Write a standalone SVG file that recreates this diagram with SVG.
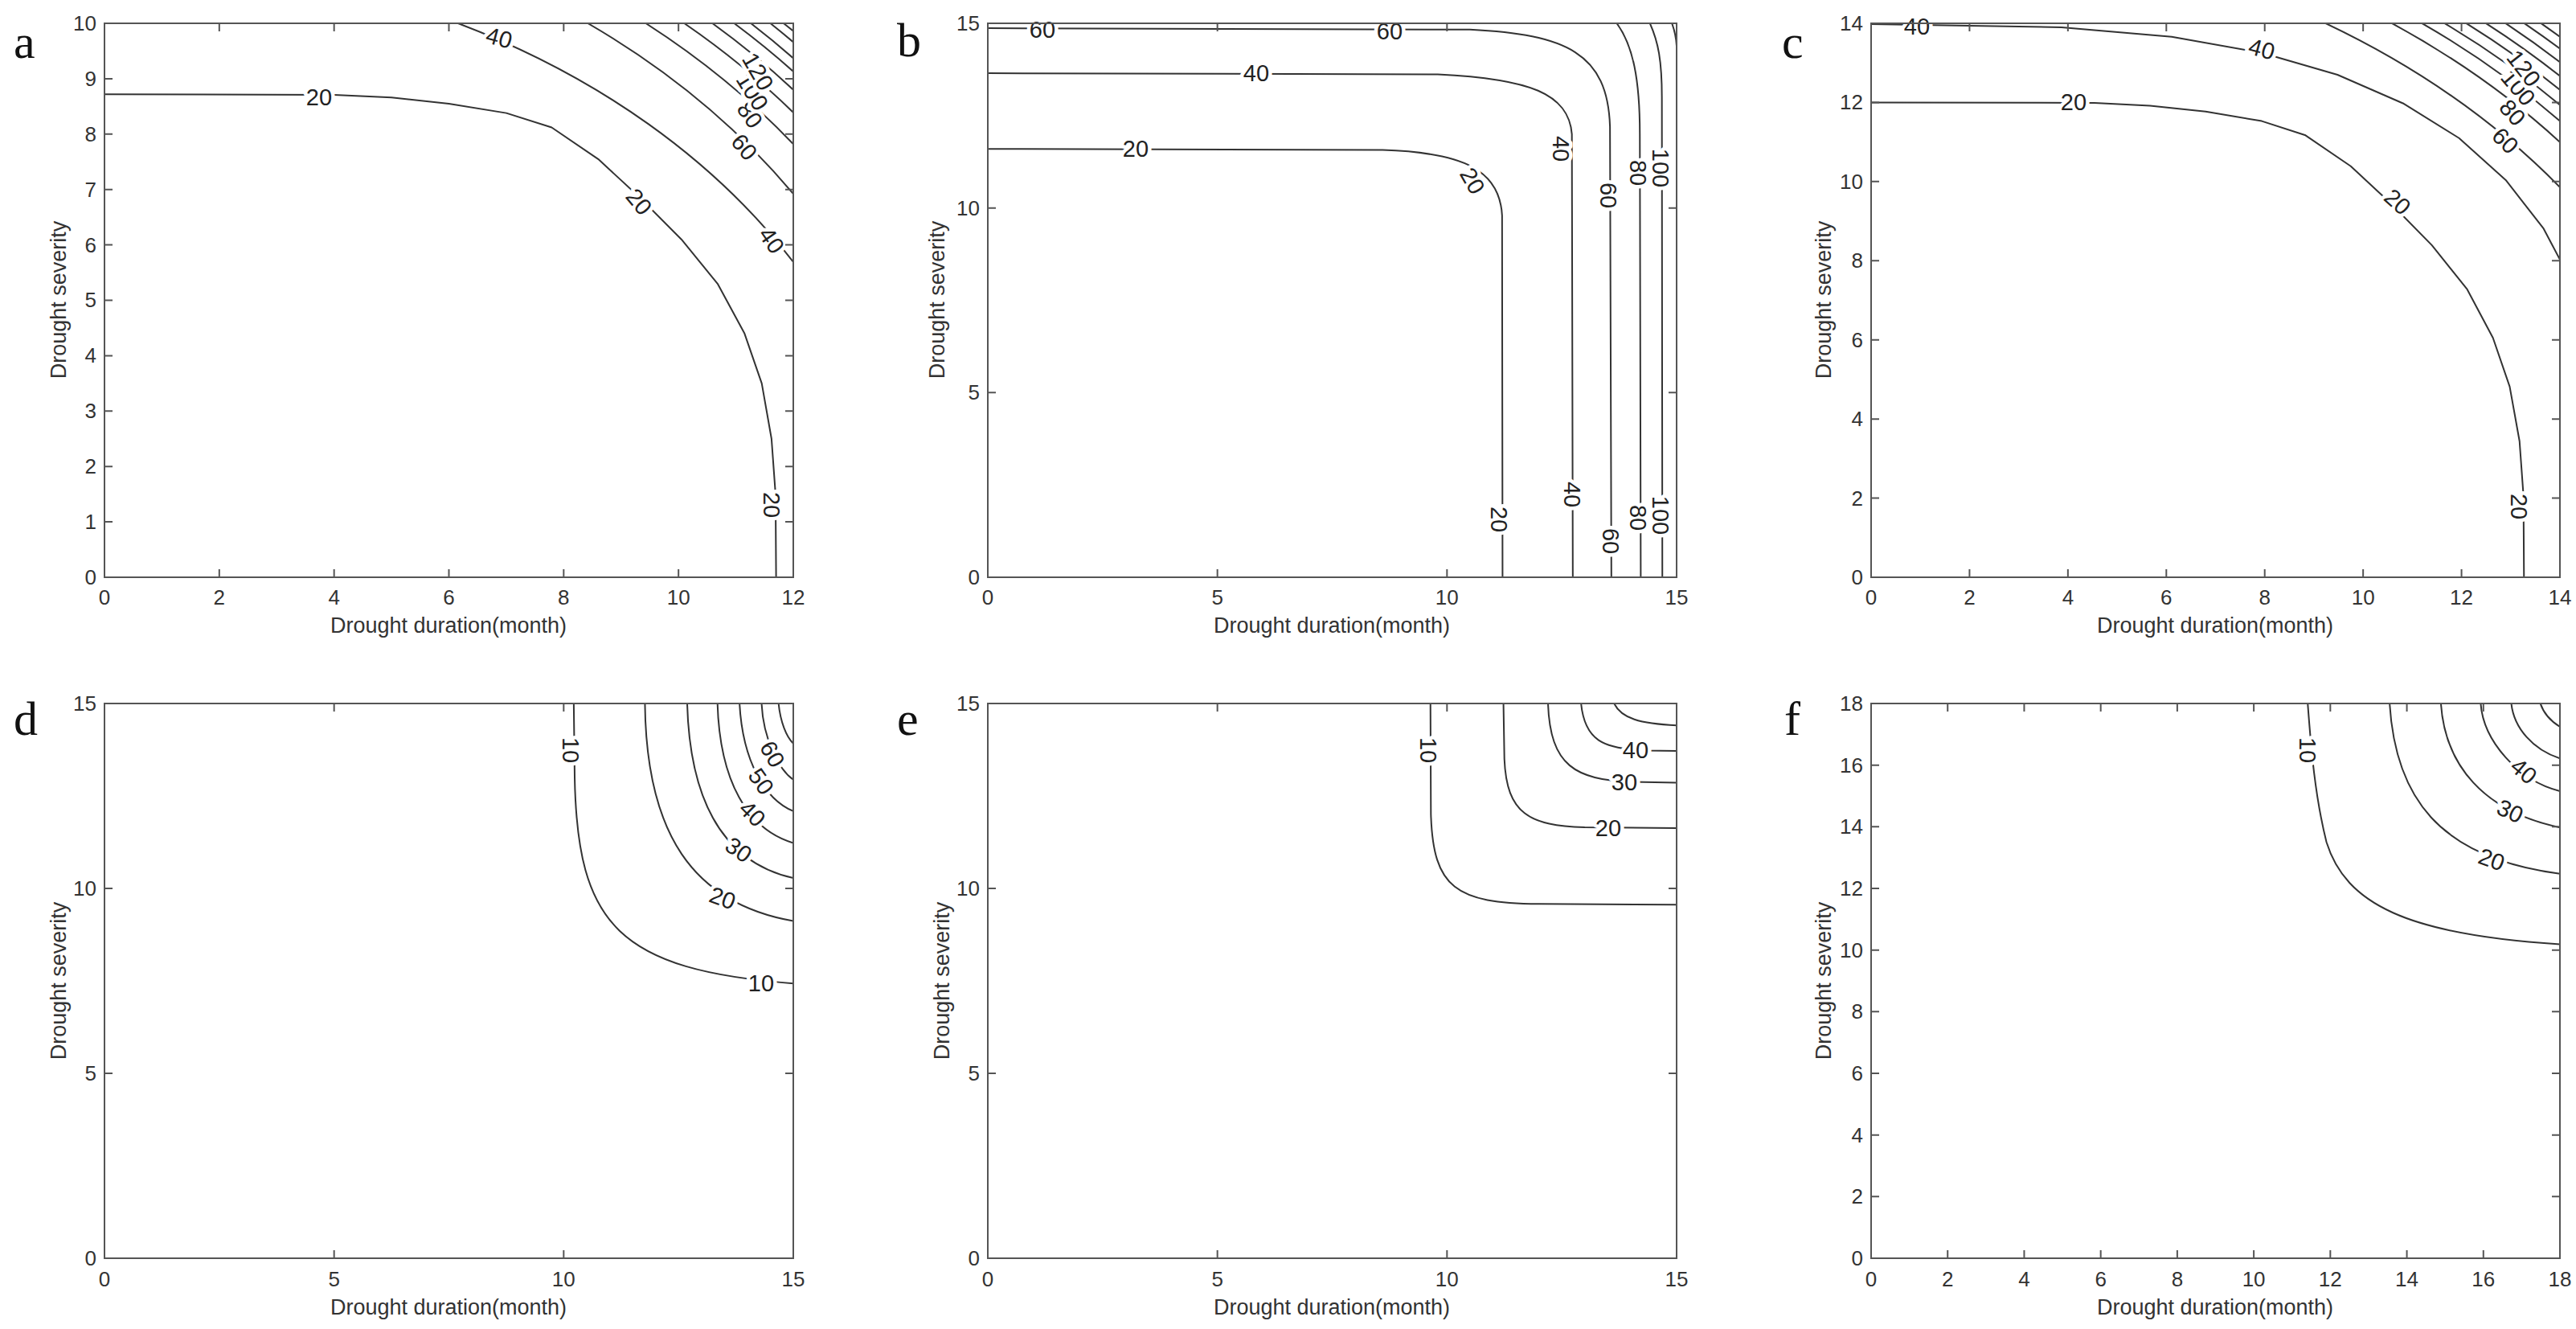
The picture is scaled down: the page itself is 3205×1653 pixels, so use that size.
<svg xmlns="http://www.w3.org/2000/svg" width="3205" height="1653" viewBox="0 0 3205 1653">
<style>
text{font-family:"Liberation Sans",Arial,sans-serif;fill:#333}
.fr{fill:none;stroke:#555;stroke-width:2}
.tk{fill:none;stroke:#555;stroke-width:2}
.c{fill:none;stroke:#333;stroke-width:2;vector-effect:non-scaling-stroke;stroke-linejoin:round}
.tl{font-size:26px}
.ty{font-size:26px;text-anchor:end}
.tx{font-size:26px;text-anchor:middle}
.al{font-size:27px;text-anchor:middle}
.lb{font-size:29px;text-anchor:middle;dominant-baseline:central;fill:#222;stroke:#fff;stroke-width:9px;paint-order:stroke;stroke-linejoin:round}
.pl{font-family:"Liberation Serif","Times New Roman",serif;font-size:60px;fill:#111}
</style>
<defs>
<clipPath id="ca" clipPathUnits="userSpaceOnUse"><rect x="0" y="0" width="12" height="10"/></clipPath>
<clipPath id="cb" clipPathUnits="userSpaceOnUse"><rect x="0" y="0" width="15" height="15"/></clipPath>
<clipPath id="cc" clipPathUnits="userSpaceOnUse"><rect x="0" y="0" width="14" height="14"/></clipPath>
<clipPath id="cf" clipPathUnits="userSpaceOnUse"><rect x="0" y="0" width="18" height="18"/></clipPath>
</defs>
<rect width="3205" height="1653" fill="#fff"/>

<text class="pl" x="17" y="72">a</text>
<text class="pl" x="1116" y="70">b</text>
<text class="pl" x="2217" y="72">c</text>
<text class="pl" x="17" y="914">d</text>
<text class="pl" x="1116" y="914">e</text>
<text class="pl" x="2220" y="914">f</text>

<!-- Panel a -->
<g id="panel-a" transform="translate(130,29)">
<g id="contours-a" transform="translate(0,689) scale(71.42,-68.9)" clip-path="url(#ca)">
<path class="c" d="M0,8.72 L4,8.71 L5,8.66 L6,8.55 L7,8.38 L7.79,8.12 L8.6,7.55 L9.33,6.85 L10.05,6.1 L10.68,5.3 L11.15,4.4 L11.45,3.5 L11.62,2.5 L11.69,1.5 L11.7,0"/>
<path class="c" d="M6.16,10 A13.96 11.14 0 0 0 12,5.69"/>
<path class="c" d="M8.42,10 A14.53 12.27 0 0 0 12,6.92"/>
<path class="c" d="M9.43,10 A15.19 12.76 0 0 0 12,7.82"/>
<path class="c" d="M10.1,10 A15.61 13.11 0 0 0 12,8.39"/>
<path class="c" d="M10.59,10 A15.93 13.38 0 0 0 12,8.8"/>
<path class="c" d="M10.97,10 A16.19 13.6 0 0 0 12,9.13"/>
<path class="c" d="M11.26,10 A16.39 13.76 0 0 0 12,9.37"/>
<path class="c" d="M11.6,10 A16.62 13.96 0 0 0 12,9.66"/>
<path class="c" d="M11.83,10 A16.78 14.1 0 0 0 12,9.86"/>
</g>
<text class="lb" x="267" y="92">20</text>
<text class="lb" transform="translate(665,222) rotate(50)">20</text>
<text class="lb" transform="translate(830,599) rotate(90)">20</text>
<text class="lb" transform="translate(491,18) rotate(15)">40</text>
<text class="lb" transform="translate(830,270) rotate(55)">40</text>
<text class="lb" transform="translate(796,154) rotate(50)">60</text>
<text class="lb" transform="translate(803,114) rotate(55)">80</text>
<text class="lb" transform="translate(806,85) rotate(58)">100</text>
<text class="lb" transform="translate(813,60) rotate(60)">120</text>
<rect class="fr" x="0" y="0" width="857" height="689"/>
<path class="tk" d="M142.83,689v-10M142.83,0v10M285.67,689v-10M285.67,0v10M428.5,689v-10M428.5,0v10M571.33,689v-10M571.33,0v10M714.17,689v-10M714.17,0v10M0,620.1h10M857,620.1h-10M0,551.2h10M857,551.2h-10M0,482.3h10M857,482.3h-10M0,413.4h10M857,413.4h-10M0,344.5h10M857,344.5h-10M0,275.6h10M857,275.6h-10M0,206.7h10M857,206.7h-10M0,137.8h10M857,137.8h-10M0,68.9h10M857,68.9h-10"/>
<g class="tl">
<text class="tx" x="0" y="723">0</text><text class="tx" x="142.83" y="723">2</text><text class="tx" x="285.67" y="723">4</text><text class="tx" x="428.5" y="723">6</text><text class="tx" x="571.33" y="723">8</text><text class="tx" x="714.17" y="723">10</text><text class="tx" x="857" y="723">12</text>
<text class="ty" x="-10" y="698">0</text><text class="ty" x="-10" y="629">1</text><text class="ty" x="-10" y="560">2</text><text class="ty" x="-10" y="491">3</text><text class="ty" x="-10" y="422">4</text><text class="ty" x="-10" y="353">5</text><text class="ty" x="-10" y="285">6</text><text class="ty" x="-10" y="216">7</text><text class="ty" x="-10" y="147">8</text><text class="ty" x="-10" y="78">9</text><text class="ty" x="-10" y="9">10</text>
</g>
<text class="al" x="428" y="758">Drought duration(month)</text>
<text class="al" transform="translate(-48,344) rotate(-90)">Drought severity</text>
</g>

<!-- Panel b -->
<g id="panel-b" transform="translate(1229,29)">
<g id="contours-b" transform="translate(0,689) scale(57.13,-45.93)" clip-path="url(#cb)">
<path class="c" d="M0,11.6 L8.6,11.57 C10.4,11.5 11.15,11 11.2,9.8 L11.21,0"/>
<path class="c" d="M0,13.65 L9.8,13.62 C11.8,13.5 12.65,13.1 12.72,12 L12.74,0"/>
<path class="c" d="M0,14.87 L10.5,14.83 C12.6,14.7 13.5,14.2 13.55,12.2 L13.58,0"/>
<path class="c" d="M13.7,15 C14.05,14.4 14.2,13.5 14.2,12 L14.22,0"/>
<path class="c" d="M14.42,15 C14.6,14.5 14.68,14 14.68,13 L14.69,0"/>
<path class="c" d="M14.9,15 C14.96,14.8 14.99,14.6 15,14.4"/>
</g>
<text class="lb" x="184" y="156">20</text>
<text class="lb" transform="translate(603,196) rotate(60)">20</text>
<text class="lb" transform="translate(636,617) rotate(90)">20</text>
<text class="lb" x="334" y="62">40</text>
<text class="lb" transform="translate(713,156) rotate(90)">40</text>
<text class="lb" transform="translate(727,586) rotate(90)">40</text>
<text class="lb" x="68" y="8">60</text>
<text class="lb" x="500" y="10">60</text>
<text class="lb" transform="translate(772,214) rotate(90)">60</text>
<text class="lb" transform="translate(775,644) rotate(90)">60</text>
<text class="lb" transform="translate(809,186) rotate(90)">80</text>
<text class="lb" transform="translate(809,615) rotate(90)">80</text>
<text class="lb" transform="translate(837,180) rotate(90)">100</text>
<text class="lb" transform="translate(837,612) rotate(90)">100</text>
<rect class="fr" x="0" y="0" width="857" height="689"/>
<path class="tk" d="M285.67,689v-10M285.67,0v10M571.33,689v-10M571.33,0v10M0,459.33h10M857,459.33h-10M0,229.67h10M857,229.67h-10"/>
<g class="tl">
<text class="tx" x="0" y="723">0</text><text class="tx" x="285.67" y="723">5</text><text class="tx" x="571.33" y="723">10</text><text class="tx" x="857" y="723">15</text>
<text class="ty" x="-10" y="698">0</text><text class="ty" x="-10" y="468">5</text><text class="ty" x="-10" y="239">10</text><text class="ty" x="-10" y="9">15</text>
</g>
<text class="al" x="428" y="758">Drought duration(month)</text>
<text class="al" transform="translate(-54,344) rotate(-90)">Drought severity</text>
</g>

<!-- Panel c -->
<g id="panel-c" transform="translate(2328,29)">
<g id="contours-c" transform="translate(0,689) scale(61.21,-49.21)" clip-path="url(#cc)">
<path class="c" d="M0,12 L4.54,11.99 L5.67,11.92 L6.8,11.77 L7.94,11.53 L8.83,11.17 L9.75,10.39 L10.58,9.43 L11.4,8.39 L12.11,7.29 L12.64,6.05 L12.98,4.82 L13.18,3.44 L13.26,2.06 L13.27,0"/>
<path class="c" d="M0,13.98 L3.87,13.9 L6.11,13.66 L7.93,13.26 L9.48,12.7 L10.81,11.98 L11.95,11.1 L12.9,10.04 L13.67,8.81 L14.28,7.37"/>
<path class="c" d="M9.24,14 A17.46 16.5 0 0 0 14,9.86"/>
<path class="c" d="M10.59,14 A18.21 17.21 0 0 0 14,11"/>
<path class="c" d="M11.2,14 A18.57 17.55 0 0 0 14,11.53"/>
<path class="c" d="M11.66,14 A18.85 17.82 0 0 0 14,11.94"/>
<path class="c" d="M12.1,14 A19.13 18.08 0 0 0 14,12.32"/>
<path class="c" d="M12.5,14 A19.38 18.32 0 0 0 14,12.67"/>
<path class="c" d="M12.9,14 A19.64 18.56 0 0 0 14,13.02"/>
<path class="c" d="M13.28,14 A19.9 18.8 0 0 0 14,13.36"/>
<path class="c" d="M13.62,14 A20.12 19.02 0 0 0 14,13.66"/>
</g>
<text class="lb" x="57" y="4">40</text>
<text class="lb" transform="translate(486,32) rotate(15)">40</text>
<text class="lb" x="252" y="98">20</text>
<text class="lb" transform="translate(655,222) rotate(42)">20</text>
<text class="lb" transform="translate(806,601) rotate(90)">20</text>
<text class="lb" transform="translate(789,146) rotate(45)">60</text>
<text class="lb" transform="translate(798,111) rotate(48)">80</text>
<text class="lb" transform="translate(805,80) rotate(50)">100</text>
<text class="lb" transform="translate(812,56) rotate(52)">120</text>
<rect class="fr" x="0" y="0" width="857" height="689"/>
<path class="tk" d="M122.43,689v-10M122.43,0v10M244.86,689v-10M244.86,0v10M367.29,689v-10M367.29,0v10M489.71,689v-10M489.71,0v10M612.14,689v-10M612.14,0v10M734.57,689v-10M734.57,0v10M0,590.57h10M857,590.57h-10M0,492.14h10M857,492.14h-10M0,393.71h10M857,393.71h-10M0,295.29h10M857,295.29h-10M0,196.86h10M857,196.86h-10M0,98.43h10M857,98.43h-10"/>
<g class="tl">
<text class="tx" x="0" y="723">0</text><text class="tx" x="122.43" y="723">2</text><text class="tx" x="244.86" y="723">4</text><text class="tx" x="367.29" y="723">6</text><text class="tx" x="489.71" y="723">8</text><text class="tx" x="612.14" y="723">10</text><text class="tx" x="734.57" y="723">12</text><text class="tx" x="857" y="723">14</text>
<text class="ty" x="-10" y="698">0</text><text class="ty" x="-10" y="600">2</text><text class="ty" x="-10" y="501">4</text><text class="ty" x="-10" y="403">6</text><text class="ty" x="-10" y="304">8</text><text class="ty" x="-10" y="206">10</text><text class="ty" x="-10" y="107">12</text><text class="ty" x="-10" y="9">14</text>
</g>
<text class="al" x="428" y="758">Drought duration(month)</text>
<text class="al" transform="translate(-50,344) rotate(-90)">Drought severity</text>
</g>

<!-- Panel d -->
<g id="panel-d" transform="translate(130,875)">
<g id="contours-d" transform="translate(0,690) scale(57.13,-46)" clip-path="url(#cb)">
<path class="c" d="M10.22,15 L10.24,13 C10.3,9 11.2,7.8 15,7.43"/>
<path class="c" d="M11.77,15 C11.8,11.5 12.8,9.6 15,9.12"/>
<path class="c" d="M12.69,15 C12.75,12.3 13.5,10.7 15,10.28"/>
<path class="c" d="M13.35,15 C13.4,12.9 14,11.6 15,11.23"/>
<path class="c" d="M13.83,15 C13.9,13.4 14.4,12.4 15,12.09"/>
<path class="c" d="M14.31,15 C14.35,14 14.7,13.2 15,12.94"/>
<path class="c" d="M14.68,15 C14.72,14.5 14.85,14.1 15,13.92"/>
</g>
<text class="lb" transform="translate(580,58) rotate(90)">10</text>
<text class="lb" x="817" y="348">10</text>
<text class="lb" transform="translate(769,242) rotate(20)">20</text>
<text class="lb" transform="translate(789,182) rotate(35)">30</text>
<text class="lb" transform="translate(806,137) rotate(45)">40</text>
<text class="lb" transform="translate(817,97) rotate(55)">50</text>
<text class="lb" transform="translate(831,63) rotate(60)">60</text>
<rect class="fr" x="0" y="0" width="857" height="690"/>
<path class="tk" d="M285.67,690v-10M285.67,0v10M571.33,690v-10M571.33,0v10M0,460h10M857,460h-10M0,230h10M857,230h-10"/>
<g class="tl">
<text class="tx" x="0" y="725">0</text><text class="tx" x="285.67" y="725">5</text><text class="tx" x="571.33" y="725">10</text><text class="tx" x="857" y="725">15</text>
<text class="ty" x="-10" y="699">0</text><text class="ty" x="-10" y="469">5</text><text class="ty" x="-10" y="239">10</text><text class="ty" x="-10" y="9">15</text>
</g>
<text class="al" x="428" y="760">Drought duration(month)</text>
<text class="al" transform="translate(-48,345) rotate(-90)">Drought severity</text>
</g>

<!-- Panel e -->
<g id="panel-e" transform="translate(1229,875)">
<g id="contours-e" transform="translate(0,690) scale(57.13,-46)" clip-path="url(#cb)">
<path class="c" d="M9.64,15 L9.65,12 C9.7,10 10.2,9.6 12,9.58 L15,9.56"/>
<path class="c" d="M11.23,15 L11.25,13.5 C11.3,12 11.8,11.7 13,11.65 L15,11.63"/>
<path class="c" d="M12.2,15 C12.25,13.3 12.8,12.95 14,12.88 L15,12.86"/>
<path class="c" d="M12.92,15 C13,14 13.4,13.78 14.3,13.73 L15,13.72"/>
<path class="c" d="M13.64,15 C13.8,14.6 14.2,14.45 15,14.41"/>
</g>
<text class="lb" transform="translate(548,58) rotate(90)">10</text>
<text class="lb" x="772" y="155">20</text>
<text class="lb" x="792" y="98">30</text>
<text class="lb" x="806" y="58">40</text>
<rect class="fr" x="0" y="0" width="857" height="690"/>
<path class="tk" d="M285.67,690v-10M285.67,0v10M571.33,690v-10M571.33,0v10M0,460h10M857,460h-10M0,230h10M857,230h-10"/>
<g class="tl">
<text class="tx" x="0" y="725">0</text><text class="tx" x="285.67" y="725">5</text><text class="tx" x="571.33" y="725">10</text><text class="tx" x="857" y="725">15</text>
<text class="ty" x="-10" y="699">0</text><text class="ty" x="-10" y="469">5</text><text class="ty" x="-10" y="239">10</text><text class="ty" x="-10" y="9">15</text>
</g>
<text class="al" x="428" y="760">Drought duration(month)</text>
<text class="al" transform="translate(-48,345) rotate(-90)">Drought severity</text>
</g>

<!-- Panel f -->
<g id="panel-f" transform="translate(2328,875)">
<g id="contours-f" transform="translate(0,690) scale(47.61,-38.33)" clip-path="url(#cf)">
<path class="c" d="M11.41,18 C11.5,16.5 11.6,15 11.9,13.5 C12.4,11.5 14,10.5 18,10.19"/>
<path class="c" d="M13.55,18 C13.7,15 14.8,13 18,12.48"/>
<path class="c" d="M14.89,18 C15,16 16,14.5 18,13.98"/>
<path class="c" d="M15.93,18 C16,16.8 16.9,15.5 18,15.16"/>
<path class="c" d="M16.73,18 C16.8,17.2 17.3,16.5 18,16.22"/>
<path class="c" d="M17.49,18 C17.6,17.6 17.8,17.4 18,17.25"/>
</g>
<text class="lb" transform="translate(543,58) rotate(90)">10</text>
<text class="lb" transform="translate(772,194) rotate(20)">20</text>
<text class="lb" transform="translate(795,134) rotate(25)">30</text>
<text class="lb" transform="translate(812,84) rotate(40)">40</text>
<rect class="fr" x="0" y="0" width="857" height="690"/>
<path class="tk" d="M95.22,690v-10M95.22,0v10M190.44,690v-10M190.44,0v10M285.67,690v-10M285.67,0v10M380.89,690v-10M380.89,0v10M476.11,690v-10M476.11,0v10M571.33,690v-10M571.33,0v10M666.56,690v-10M666.56,0v10M761.78,690v-10M761.78,0v10M0,613.33h10M857,613.33h-10M0,536.67h10M857,536.67h-10M0,460h10M857,460h-10M0,383.33h10M857,383.33h-10M0,306.67h10M857,306.67h-10M0,230h10M857,230h-10M0,153.33h10M857,153.33h-10M0,76.67h10M857,76.67h-10"/>
<g class="tl">
<text class="tx" x="0" y="725">0</text><text class="tx" x="95.22" y="725">2</text><text class="tx" x="190.44" y="725">4</text><text class="tx" x="285.67" y="725">6</text><text class="tx" x="380.89" y="725">8</text><text class="tx" x="476.11" y="725">10</text><text class="tx" x="571.33" y="725">12</text><text class="tx" x="666.56" y="725">14</text><text class="tx" x="761.78" y="725">16</text><text class="tx" x="857" y="725">18</text>
<text class="ty" x="-10" y="699">0</text><text class="ty" x="-10" y="622">2</text><text class="ty" x="-10" y="546">4</text><text class="ty" x="-10" y="469">6</text><text class="ty" x="-10" y="392">8</text><text class="ty" x="-10" y="316">10</text><text class="ty" x="-10" y="239">12</text><text class="ty" x="-10" y="162">14</text><text class="ty" x="-10" y="86">16</text><text class="ty" x="-10" y="9">18</text>
</g>
<text class="al" x="428" y="760">Drought duration(month)</text>
<text class="al" transform="translate(-50,345) rotate(-90)">Drought severity</text>
</g>
</svg>
